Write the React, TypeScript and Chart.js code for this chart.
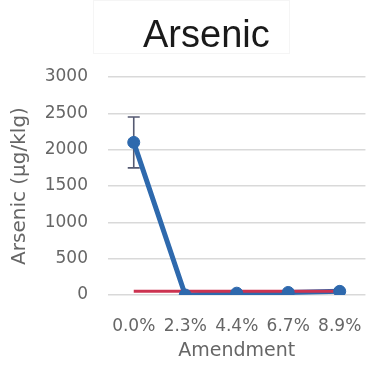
import React, { useEffect, useRef } from "react";
import { Chart, registerables } from "chart.js";

Chart.register(...registerables);

const categories = ["0.0%", "2.3%", "4.4%", "6.7%", "8.9%"];
const arsenicMean = [2100, 0, 25, 35, 50];
const errorHigh = [2450, null, null, null, null];
const errorLow = [1750, null, null, null, null];
const referenceLine = [50, 50, 50, 50, 50];
const yTicks = [0, 500, 1000, 1500, 2000, 2500, 3000];

const BLUE = "#2e69ad";
const RED = "#cc3350";
const FONT = "'DejaVu Sans', sans-serif";

const errorBarPlugin = {
  id: "errorBars",
  beforeDatasetsDraw(chart: any) {
    const { ctx } = chart;
    const xs = chart.scales.x;
    const ys = chart.scales.y;
    ctx.save();
    ctx.strokeStyle = "#555a72";
    ctx.lineWidth = 1.6;
    for (let i = 0; i < categories.length; i++) {
      const hi = errorHigh[i];
      const lo = errorLow[i];
      if (hi == null || lo == null) continue;
      const x = xs.getPixelForValue(i);
      const yh = ys.getPixelForValue(hi);
      const yl = ys.getPixelForValue(lo);
      ctx.beginPath();
      ctx.moveTo(x, yh);
      ctx.lineTo(x, yl);
      ctx.moveTo(x - 6, yh);
      ctx.lineTo(x + 6, yh);
      ctx.moveTo(x - 6, yl);
      ctx.lineTo(x + 6, yl);
      ctx.stroke();
    }
    ctx.restore();
  },
};

export default function App() {
  const ref = useRef<HTMLCanvasElement | null>(null);
  useEffect(() => {
    document.body.style.margin = "0";
    const canvas = ref.current!;
    const chart = new Chart(canvas, {
      type: "line",
      data: {
        labels: categories,
        datasets: [
          {
            label: "points",
            data: arsenicMean,
            showLine: false,
            pointRadius: 6,
            pointBackgroundColor: BLUE,
            pointBorderColor: BLUE,
            order: 0,
          },
          {
            label: "reference",
            data: referenceLine,
            borderColor: RED,
            borderWidth: 3,
            pointRadius: 0,
            order: 1,
          },
          {
            label: "line",
            data: arsenicMean,
            borderColor: BLUE,
            borderWidth: 5,
            pointRadius: 0,
            order: 2,
          },
        ],
      },
      options: {
        responsive: false,
        animation: false,
        layout: { padding: { top: 77, right: 2, bottom: 0, left: 4 } },
        plugins: {
          legend: { display: false },
          tooltip: { enabled: false },
          title: { display: false },
        },
        scales: {
          x: {
            offset: true,
            afterFit(scale: any) {
              scale.height = 74;
            },
            grid: { display: false },
            border: { display: false },
            ticks: { color: "#666", font: { family: FONT, size: 17 }, padding: 13 },
            title: {
              display: true,
              text: "Amendment",
              color: "#666",
              font: { family: FONT, size: 19 },
              padding: { top: 0, bottom: 7 },
            },
          },
          y: {
            min: 0,
            max: 3000,
            afterBuildTicks(scale: any) {
              scale.ticks = yTicks.map((v) => ({ value: v }));
            },
            afterFit(scale: any) {
              scale.width = 104;
            },
            grid: { color: "#d9d9d9", lineWidth: 1.5, drawTicks: false },
            border: { display: false },
            ticks: {
              color: "#666",
              font: { family: FONT, size: 17 },
              padding: 20,
              callback: (v: any) => String(v),
            },
            title: {
              display: true,
              text: "Arsenic (µg/klg)",
              color: "#666",
              font: { family: FONT, size: 20 },
              padding: { top: 4, bottom: 0 },
            },
          },
        },
      },
      plugins: [errorBarPlugin],
    });
    return () => chart.destroy();
  }, []);

  return (
    <div style={{ position: "relative", width: 375, height: 369 }}>
      <canvas ref={ref} width={375} height={369} style={{ display: "block" }} />
      <div
        style={{
          position: "absolute",
          left: 93,
          top: 0,
          width: 197,
          height: 54,
          border: "1px solid #f5f5f5",
          boxSizing: "border-box",
        }}
      />
      <div
        style={{
          position: "absolute",
          left: 143,
          top: 15,
          fontFamily: "'Liberation Sans', Arial, sans-serif",
          fontSize: 38,
          lineHeight: 1,
          color: "#1a1a1a",
          whiteSpace: "nowrap",
        }}
      >
        Arsenic
      </div>
    </div>
  );
}
